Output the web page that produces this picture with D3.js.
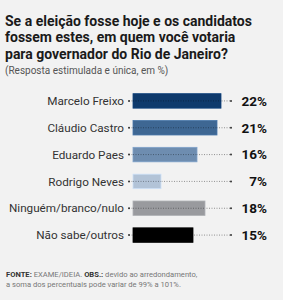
<!DOCTYPE html>
<html>
<head>
<meta charset="utf-8">
<script src="https://cdn.jsdelivr.net/npm/d3@7"></script>
<style>
  body { margin: 0; background: #f2f2f2; }
  svg { display: block; font-family: Roboto, "Liberation Sans", sans-serif; }
</style>
</head>
<body>
<script>
var width = 283, height = 300;

var candidates = ["Marcelo Freixo", "Cláudio Castro", "Eduardo Paes", "Rodrigo Neves", "Ninguém/branco/nulo", "Não sabe/outros"];
var percents = [22, 21, 16, 7, 18, 15];
var barColors = ["#0e3a6c", "#3e6793", "#6e8db0", "#b2c3d7", "#999a9e", "#000000"];
var titleLines = ["Se a eleição fosse hoje e os candidatos", "fossem estes, em quem você votaria", "para governador do Rio de Janeiro?"];

var data = candidates.map(function (c, i) {
  return {name: c, value: percents[i], color: barColors[i]};
});

var svg = d3.select("body").append("svg")
    .attr("width", width)
    .attr("height", height);

svg.append("rect").attr("width", width).attr("height", height).attr("fill", "#f2f2f2");

// title
svg.selectAll(".title")
  .data(titleLines)
  .enter().append("text")
    .attr("x", 5)
    .attr("y", function (d, i) { return 25.5 + i * 16.8; })
    .attr("font-size", 14)
    .attr("font-weight", 700)
    .attr("fill", "#1a1a1a")
    .text(function (d) { return d; });

svg.append("text")
    .attr("x", 5)
    .attr("y", 74)
    .attr("font-size", 10)
    .attr("fill", "#555")
    .text("(Resposta estimulada e única, em %)");

var x = d3.scaleLinear().domain([0, 22]).range([133, 221]);
var y = d3.scaleBand().domain(candidates).range([87.5, 248.5]).paddingInner(0.46).paddingOuter(0.23);

var row = svg.selectAll(".row")
  .data(data)
  .enter().append("g")
    .attr("class", "row");

// dotted guide
row.append("line")
    .attr("x1", 129).attr("x2", 231)
    .attr("y1", function (d) { return y(d.name) + y.bandwidth() / 2; })
    .attr("y2", function (d) { return y(d.name) + y.bandwidth() / 2; })
    .attr("stroke", "#777")
    .attr("stroke-width", 0.8)
    .attr("stroke-dasharray", "1,1.5");

row.selectAll(".dot")
  .data(function (d) { return [129, 231].map(function (px) { return {px: px, d: d}; }); })
  .enter().append("circle")
    .attr("cx", function (e) { return e.px; })
    .attr("cy", function (e) { return y(e.d.name) + y.bandwidth() / 2; })
    .attr("r", 1)
    .attr("fill", "#333");

row.append("rect")
    .attr("x", x(0))
    .attr("y", function (d) { return y(d.name); })
    .attr("width", function (d) { return x(d.value) - x(0); })
    .attr("height", y.bandwidth())
    .attr("fill", function (d) { return d.color; })
    .attr("stroke", function (d) { return d3.color(d.color).brighter(0.4); })
    .attr("stroke-width", 0.8);

// dotted line across bar
row.append("line")
    .attr("x1", x(0)).attr("x2", function (d) { return x(d.value); })
    .attr("y1", function (d) { return y(d.name) + y.bandwidth() / 2; })
    .attr("y2", function (d) { return y(d.name) + y.bandwidth() / 2; })
    .attr("stroke", "rgba(0,0,0,0.45)")
    .attr("stroke-width", 0.8)
    .attr("stroke-dasharray", "1,1.5");

row.append("text")
    .attr("x", 124)
    .attr("y", function (d) { return y(d.name) + y.bandwidth() / 2; })
    .attr("dy", "0.35em")
    .attr("text-anchor", "end")
    .attr("font-size", 11.7)
    .attr("fill", "#333")
    .text(function (d) { return d.name; });

row.append("text")
    .attr("x", 267)
    .attr("y", function (d) { return y(d.name) + y.bandwidth() / 2; })
    .attr("dy", "0.36em")
    .attr("text-anchor", "end")
    .attr("font-size", 13.5)
    .attr("font-weight", 700)
    .attr("fill", "#111")
    .text(function (d) { return d.value + "%"; });

// footer
var f1 = svg.append("text").attr("x", 6).attr("y", 277).attr("font-size", 7.6).attr("fill", "#777");
f1.append("tspan").attr("font-weight", 700).attr("fill", "#333").text("FONTE:");
f1.append("tspan").text(" EXAME/IDEIA. ");
f1.append("tspan").attr("font-weight", 700).attr("fill", "#333").text("OBS.:");
f1.append("tspan").text(" devido ao arredondamento,");
svg.append("text").attr("x", 6).attr("y", 287).attr("font-size", 7.6).attr("fill", "#777")
    .text("a soma dos percentuais pode variar de 99% a 101%.");
</script>
</body>
</html>
